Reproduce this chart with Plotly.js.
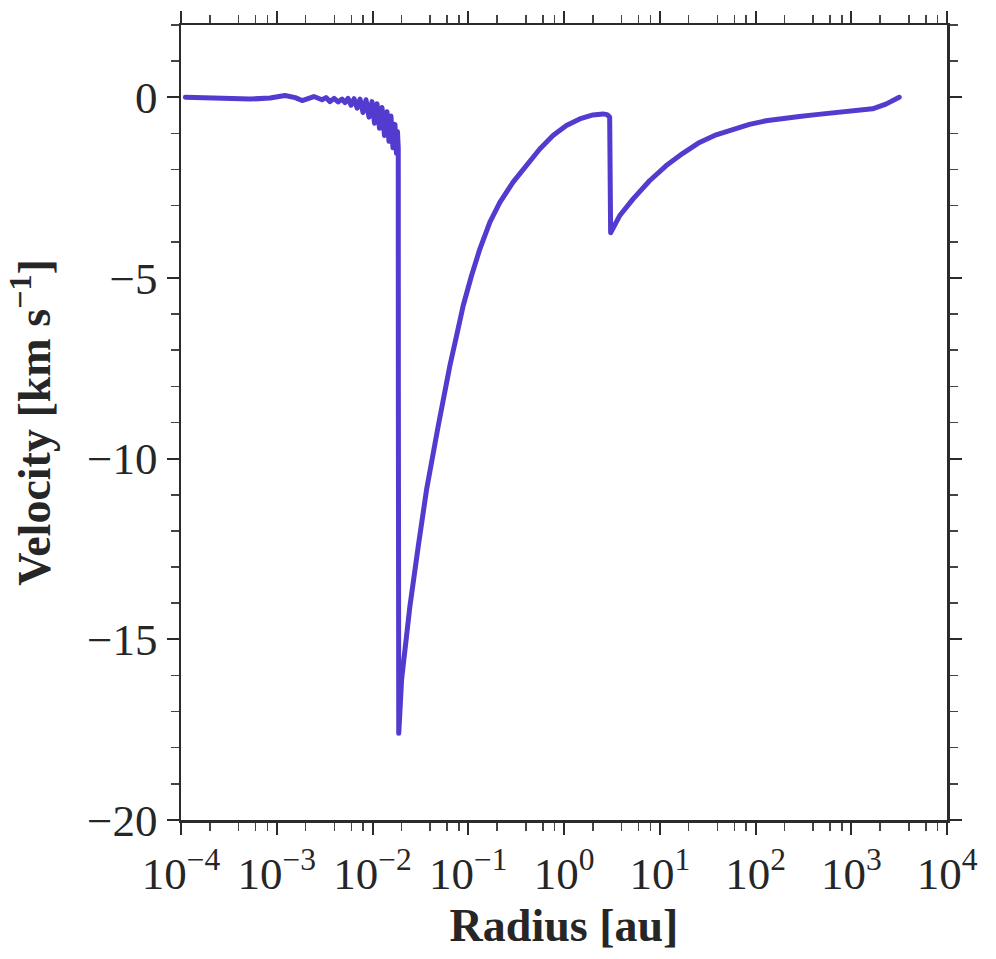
<!DOCTYPE html>
<html>
<head>
<meta charset="utf-8">
<script src="https://cdn.plot.ly/plotly-3.0.1.min.js"></script>
<style>
html,body{margin:0;padding:0;background:#fff;}
#plot{width:996px;height:959px;}
#plot .scatterlayer path.js-line{stroke-linejoin:round !important;stroke-linecap:round !important;}
</style>
</head>
<body>
<div id="plot"></div>
<script>
// Radius [au]
var radius = [
  1.11e-4, 2.02e-4, 3.55e-4, 5.28e-4, 8.53e-4, 1.22e-3, 1.56e-3, 1.84e-3, 2.44e-3,
  2.70e-3, 2.97e-3, 3.27e-3, 3.60e-3, 3.97e-3, 4.37e-3, 4.81e-3, 5.17e-3, 5.55e-3,
  5.97e-3, 6.42e-3, 6.90e-3, 7.41e-3, 7.96e-3, 8.56e-3, 9.19e-3, 9.88e-3, 1.050e-2,
  1.114e-2, 1.183e-2, 1.256e-2, 1.334e-2, 1.417e-2, 1.486e-2, 1.559e-2, 1.636e-2,
  1.716e-2, 1.779e-2, 1.823e-2, 1.858e-2, 1.862e-2, 1.880e-2,
  2.014e-2, 2.460e-2, 3.006e-2, 3.673e-2, 4.853e-2, 5.47e-2, 6.427e-2, 7.55e-2, 8.851e-2,
  0.1081, 0.1321, 0.1679, 0.2138, 0.2938, 0.4055, 0.5585, 0.7674, 1.059, 1.459, 2.004,
  2.553, 2.818, 2.999,
  3.069, 3.81, 5.248, 7.83, 11.70, 17.42, 26.0, 38.8, 57.8, 86.5, 128.8, 192.3, 287.1,
  428.5, 638.3, 1032, 1667, 2301, 2698, 3170
];
// Velocity [km s^-1]
var velocity = [
  0.0, -0.01, -0.03, -0.05, -0.02, 0.05, -0.01, -0.09, 0.02,
  -0.01, -0.07, -0.01, -0.12, -0.03, -0.13, -0.05, -0.15, -0.03,
  -0.22, -0.04, -0.30, -0.05, -0.42, -0.07, -0.55, -0.12, -0.72,
  -0.18, -0.86, -0.28, -1.06, -0.40, -1.22, -0.52, -1.40,
  -0.75, -1.55, -0.95, -1.40, -8.0, -17.6,
  -16.11, -14.08, -12.42, -10.85, -9.10, -8.36, -7.43, -6.60, -5.77,
  -4.94, -4.20, -3.46, -2.91, -2.35, -1.89, -1.43, -1.06, -0.78, -0.60, -0.49,
  -0.46, -0.48, -0.55,
  -3.75, -3.28, -2.82, -2.31, -1.89, -1.55, -1.25, -1.04, -0.88, -0.75, -0.65, -0.58, -0.53,
  -0.48, -0.43, -0.38, -0.32, -0.19, -0.09, 0.0
];
var xTickVals = [1e-4, 1e-3, 1e-2, 1e-1, 1, 10, 100, 1000, 10000];
var xTickText = ['10<sup>\u22124</sup>', '10<sup>\u22123</sup>', '10<sup>\u22122</sup>', '10<sup>\u22121</sup>',
                 '10<sup>0</sup>', '10<sup>1</sup>', '10<sup>2</sup>', '10<sup>3</sup>', '10<sup>4</sup>'];
var minorDigits = [2, 4, 6, 8];

var xMinor = [];
xTickVals.slice(0, -1).forEach(function (d) {
  minorDigits.forEach(function (m) { xMinor.push(d * m); });
});

var axisColor = '#2b2b2b';
var fontFam = '"Liberation Serif", "Times New Roman", serif';

var trace = {
  x: radius,
  y: velocity,
  type: 'scatter',
  mode: 'lines',
  line: {color: '#533bcf', width: 5},
  hoverinfo: 'x+y'
};

var layout = {
  width: 996,
  height: 959,
  margin: {l: 181, r: 49, t: 25, b: 139, pad: 0},
  paper_bgcolor: '#ffffff',
  plot_bgcolor: '#ffffff',
  showlegend: false,
  font: {family: fontFam, color: '#262626'},
  xaxis: {
    type: 'log',
    range: [-4, 4],
    tickmode: 'array',
    tickvals: xTickVals,
    ticktext: xTickText,
    ticks: 'outside',
    ticklen: 12,
    tickwidth: 2,
    tickcolor: axisColor,
    showline: true,
    linecolor: axisColor,
    linewidth: 2.5,
    mirror: 'allticks',
    showgrid: false,
    zeroline: false,
    tickfont: {family: fontFam, size: 45, color: '#262626'},
    minor: {tickvals: xMinor, ticks: 'outside', ticklen: 8, tickwidth: 1.5, tickcolor: '#444', showgrid: false},
    title: {text: '<b>Radius [au]</b>', font: {family: fontFam, size: 46, color: '#262626'}, standoff: 12}
  },
  yaxis: {
    range: [-20, 2],
    tickmode: 'linear',
    tick0: 0,
    dtick: 5,
    ticks: 'outside',
    ticklen: 12,
    tickwidth: 2,
    tickcolor: axisColor,
    showline: true,
    linecolor: axisColor,
    linewidth: 2.5,
    mirror: 'allticks',
    showgrid: false,
    zeroline: false,
    tickfont: {family: fontFam, size: 45, color: '#262626'},
    minor: {tick0: 0, dtick: 1, ticks: 'outside', ticklen: 8, tickwidth: 1.5, tickcolor: '#444', showgrid: false},
    title: {text: '<b>Velocity [km s<sup>\u22121</sup>]</b>', font: {family: fontFam, size: 46, color: '#262626'}, standoff: 22}
  }
};

Plotly.newPlot('plot', [trace], layout, {displayModeBar: false, staticPlot: true});
</script>
</body>
</html>
